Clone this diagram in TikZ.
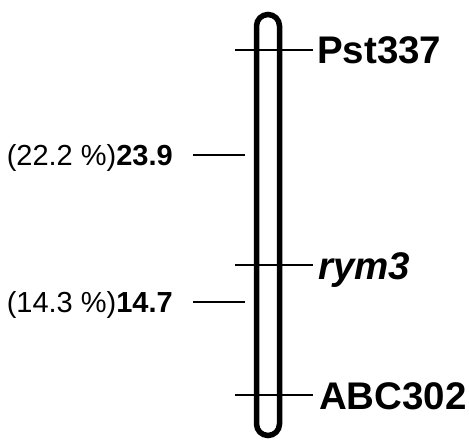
\documentclass[tikz,border=0pt]{standalone}
\usepackage{fontspec}
\setmainfont{Liberation Sans}
\begin{document}
\begin{tikzpicture}[x=1pt,y=1pt,
  bar/.style={line width=5.5pt},
  tick/.style={line width=2.8pt},
  rlabel/.style={anchor=base west,inner sep=0pt,font=\fontsize{38.5}{40}\selectfont\bfseries},
  llabel/.style={anchor=base east,inner sep=0pt,font=\fontsize{29}{31}\selectfont}]
\useasboundingbox (0,0) rectangle (469,440);
% chromosome bar
\draw[bar,rounded corners=11.5pt] (256.5,4.5) rectangle (279.5,425.5);
% right markers (image y: 50, 265, 395)
\coordinate (m1a) at (235,390); \coordinate (m1b) at (313,390);
\coordinate (m2a) at (235,175); \coordinate (m2b) at (313,175);
\coordinate (m3a) at (235,45);  \coordinate (m3b) at (313,45);
\draw[tick] (m1a) -- (m1b);
\draw[tick] (m2a) -- (m2b);
\draw[tick] (m3a) -- (m3b);
\node[rlabel] (pst) at (317,376) {Pst337};
\node[rlabel] (rym) at (318,161) {\itshape rym3};
\node[rlabel] (abc) at (319,31) {ABC302};
% left ticks (image y: 155, 302)
\coordinate (l1a) at (193,285); \coordinate (l1b) at (245,285);
\coordinate (l2a) at (193,138); \coordinate (l2b) at (245,138);
\draw[tick] (l1a) -- (l1b);
\draw[tick] (l2a) -- (l2b);
\node[llabel] (p1) at (173,274) {(22.2 \%)\textbf{23.9}};
\node[llabel] (p2) at (173,128) {(14.3 \%)\textbf{14.7}};
\end{tikzpicture}
\end{document}
